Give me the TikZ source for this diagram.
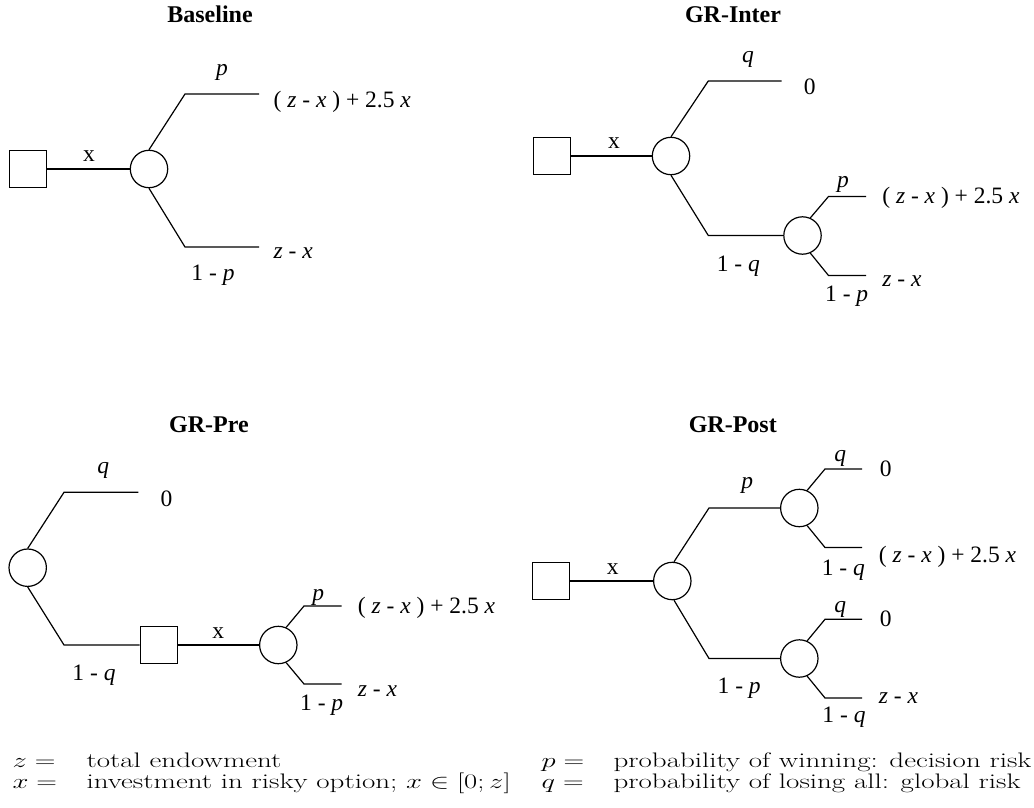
\documentclass[tikz,border=0pt]{standalone}
\usepackage{fontspec}
\usepackage{graphicx}
\newfontfamily\tms{Liberation Serif}
\begin{document}
\begin{tikzpicture}[x=1pt,y=-1pt, line width=1.2pt,
  dec/.style={draw, rectangle, minimum size=37pt, inner sep=0pt},
  chance/.style={draw, circle, minimum size=37.4pt, inner sep=0pt},
  lbl/.style={font=\fontsize{23.5}{28}\tms, anchor=base, inner sep=0pt},
  pay/.style={lbl, anchor=base west},
  ttl/.style={font=\fontsize{24}{28}\tms\bfseries, anchor=base, inner sep=0pt},
  leg/.style={font=\fontsize{21}{25}\selectfont, anchor=base west, inner sep=0pt}]
\useasboundingbox (0,0) rectangle (1034,808);

% ---------------- Baseline ----------------
\node[ttl] (tA) at (210,22.7) {Baseline};
\node[dec] (sqA) at (28,169) {};
\node[chance] (cA) at (149,169) {};
\coordinate (kA1) at (185,94);  \coordinate (eA1) at (259,94);
\coordinate (kA2) at (185,247); \coordinate (eA2) at (259,247);
\draw (sqA) -- (cA);
\draw (cA.north) -- (kA1) -- (eA1);
\draw (cA.south) -- (kA2) -- (eA2);
\node[lbl] (xA) at (89,161.7) {x};
\node[lbl] (pA) at (222,75.5) {\textit{p}};
\node[lbl] (npA) at (213,280) {1 - \textit{p}};
\node[pay] (vA1) at (273,107) {( \textit{z} - \textit{x} ) + 2.5 \textit{x}};
\node[pay] (vA2) at (273,258) {\textit{z} - \textit{x}};

% ---------------- GR-Inter ----------------
\node[ttl] (tB) at (733,22.7) {GR-Inter};
\node[dec] (sqB) at (552,156) {};
\node[chance] (cB1) at (671,156) {};
\node[chance] (cB2) at (802.5,235.5) {};
\coordinate (kB1) at (708.3,81);    \coordinate (eB1) at (781.7,81);
\coordinate (kB2) at (708.3,235.5);
\coordinate (kB3) at (828.5,196.5); \coordinate (eB3) at (866,196.5);
\coordinate (kB4) at (828.5,275.5); \coordinate (eB4) at (866,275.5);
\draw (sqB) -- (cB1);
\draw (cB1.north) -- (kB1) -- (eB1);
\draw (cB1.south) -- (kB2) -- (cB2.west);
\draw (cB2.66) -- (kB3) -- (eB3);
\draw (cB2.-66) -- (kB4) -- (eB4);
\node[lbl] (xB) at (614,148.3) {x};
\node[lbl] (qB) at (748,63) {\textit{q}};
\node[pay] (vB0) at (803.3,95) {0};
\node[lbl] (nqB) at (738.3,271.7) {1 - \textit{q}};
\node[lbl] (pB) at (843,187) {\textit{p}};
\node[pay] (vB1) at (881.7,203.3) {( \textit{z} - \textit{x} ) + 2.5 \textit{x}};
\node[pay] (vB2) at (881.7,286.7) {\textit{z} - \textit{x}};
\node[lbl] (npB) at (846.7,301.7) {1 - \textit{p}};

% ---------------- GR-Pre ----------------
\node[ttl] (tC) at (209,432.7) {GR-Pre};
\node[chance] (cC1) at (27.7,567.7) {};
\node[dec] (sqC) at (158.7,645) {};
\node[chance] (cC2) at (278.3,645) {};
\coordinate (kC1) at (64,492.3);  \coordinate (eC1) at (138.3,492.3);
\coordinate (kC2) at (64,645);
\coordinate (kC3) at (304,606);   \coordinate (eC3) at (341.7,606);
\coordinate (kC4) at (304,684);   \coordinate (eC4) at (341.7,684);
\draw (cC1.north) -- (kC1) -- (eC1);
\draw (cC1.south) -- (kC2) -- (sqC.west);
\draw (sqC) -- (cC2);
\draw (cC2.66) -- (kC3) -- (eC3);
\draw (cC2.-66) -- (kC4) -- (eC4);
\node[lbl] (qC) at (103.3,473) {\textit{q}};
\node[pay] (vC0) at (160,506) {0};
\node[lbl] (nqC) at (94,680) {1 - \textit{q}};
\node[lbl] (xC) at (218.3,638.3) {x};
\node[lbl] (pC) at (318.3,600) {\textit{p}};
\node[pay] (vC1) at (357.3,613.5) {( \textit{z} - \textit{x} ) + 2.5 \textit{x}};
\node[pay] (vC2) at (357.3,696.7) {\textit{z} - \textit{x}};
\node[lbl] (npC) at (321.7,710) {1 - \textit{p}};

% ---------------- GR-Post ----------------
\node[ttl] (tD) at (732.8,432.7) {GR-Post};
\node[dec] (sqD) at (551.3,581) {};
\node[chance] (cD1) at (672.3,581) {};
\node[chance] (cD2) at (799.3,508) {};
\node[chance] (cD3) at (799.3,658.5) {};
\coordinate (kD1) at (709,508);
\coordinate (kD2) at (709,658.5);
\coordinate (kD3) at (825,469);   \coordinate (eD3) at (862,469);
\coordinate (kD4) at (825,547.5); \coordinate (eD4) at (862,547.5);
\coordinate (kD5) at (825,619.3); \coordinate (eD5) at (862,619.3);
\coordinate (kD6) at (825,698);   \coordinate (eD6) at (862,698);
\draw (sqD) -- (cD1);
\draw (cD1.85) -- (kD1) -- (cD2.west);
\draw (cD1.-85) -- (kD2) -- (cD3.west);
\draw (cD2.66) -- (kD3) -- (eD3);
\draw (cD2.-66) -- (kD4) -- (eD4);
\draw (cD3.66) -- (kD5) -- (eD5);
\draw (cD3.-66) -- (kD6) -- (eD6);
\node[lbl] (xD) at (612.7,574) {x};
\node[lbl] (pD) at (747.3,488) {\textit{p}};
\node[lbl] (npD) at (739.2,693.3) {1 - \textit{p}};
\node[lbl] (qD1) at (840.3,461.3) {\textit{q}};
\node[pay] (vD1) at (879.3,476) {0};
\node[lbl] (nqD1) at (843.3,575) {1 - \textit{q}};
\node[pay] (vD2) at (878.3,562) {( \textit{z} - \textit{x} ) + 2.5 \textit{x}};
\node[lbl] (qD2) at (840.3,612.3) {\textit{q}};
\node[pay] (vD3) at (879.3,626.7) {0};
\node[pay] (vD4) at (878.3,703.3) {\textit{z} - \textit{x}};
\node[lbl] (nqD2) at (844,722) {1 - \textit{q}};

% ---------------- Legend ----------------
\node[leg] (lz) at (12,767) {\scalebox{1.38}[1]{$z =$}};
\node[leg] (lzt) at (86,767) {\scalebox{1.38}[1]{total endowment}};
\node[leg] (lp) at (541,767) {\scalebox{1.38}[1]{$p =$}};
\node[leg] (lpt) at (613,767) {\scalebox{1.38}[1]{probability of winning: decision risk}};
\node[leg] (lx) at (12,788) {\scalebox{1.38}[1]{$x =$}};
\node[leg] (lxt) at (86,788) {\scalebox{1.38}[1]{investment in risky option; $x \in [0; z]$}};
\node[leg] (lq) at (541,788) {\scalebox{1.38}[1]{$q =$}};
\node[leg] (lqt) at (613,788) {\scalebox{1.38}[1]{probability of losing all: global risk}};
\end{tikzpicture}
\end{document}
